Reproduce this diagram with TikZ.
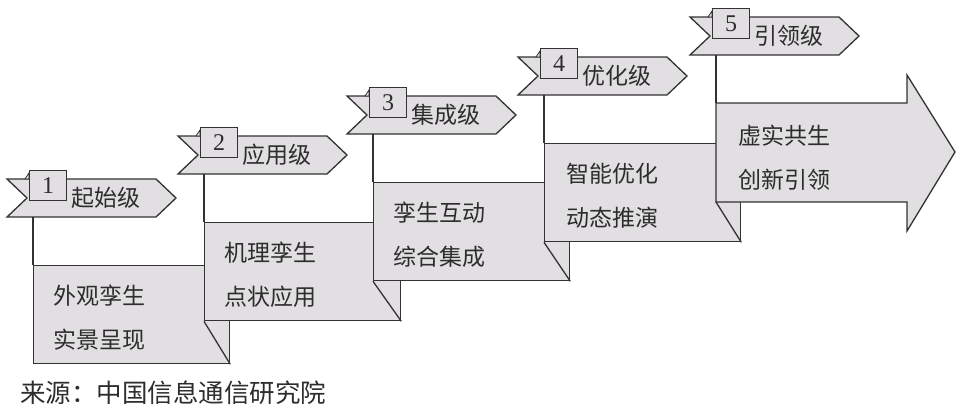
\documentclass[tikz,border=0pt]{standalone}
\usepackage{fontspec}
\setmainfont{Liberation Serif}
\newfontfamily\cjk{Noto Sans CJK SC}
\definecolor{fillcol}{RGB}{225,223,225}
\definecolor{linecol}{RGB}{50,50,50}
\definecolor{textcol}{RGB}{45,45,45}

\tikzstyle{stagebox} = [draw=linecol, fill=fillcol, line width=1.3pt, rectangle,
    minimum width=196pt, minimum height=98pt, anchor=north west, inner sep=0pt]
\tikzstyle{numbox} = [draw=linecol, fill=fillcol, line width=1.3pt, rectangle,
    minimum width=37pt, minimum height=30pt, anchor=north west, inner sep=0pt,
    text=textcol, font=\fontsize{24}{24}\selectfont]
\tikzstyle{flagshape} = [draw=linecol, fill=fillcol, line width=1.3pt]
\tikzstyle{tab} = [draw=linecol, fill=fillcol, line width=0.8pt]
\tikzstyle{link} = [draw=linecol, line width=1.3pt]
\tikzstyle{stagetext} = [anchor=west, align=left, inner sep=0pt, text=textcol,
    font=\cjk\fontsize{23}{44}\selectfont]
\tikzstyle{flaglabel} = [anchor=west, inner sep=0pt, text=textcol,
    font=\cjk\fontsize{23}{23}\selectfont]
\tikzstyle{caption} = [anchor=west, inner sep=0pt, text=textcol,
    font=\cjk\fontsize{25.5}{25.5}\selectfont]

\begin{document}
\begin{tikzpicture}[x=1pt, y=-1pt]
      \useasboundingbox (0,0) rectangle (964,413);

      % stage 1
      \node [stagebox] (stage1) at (33,265) {};
      \node [stagetext] (text1) at ([xshift=20pt,yshift=-53pt]stage1.north west) {外观孪生\\实景呈现};
      \coordinate (flag1) at (7,179);
      \coordinate (foot1) at (33,217);
      \draw [flagshape] (flag1) -- ++(149,0) -- ++(20,19) -- ++(-20,19) -- ++(-149,0) -- ++(20,-19) -- cycle;
      \draw [tab] (flag1) ++(18,0) -- ++(4,-6) -- ++(0,6) -- cycle;
      \node [numbox] (num1) at (29,170) {1};
      \node [flaglabel] (lab1) at (71,198) {起始级};
      \draw [link] (foot1) -- (stage1.north west);

      % stage 2
      \node [stagebox] (stage2) at (204,222) {};
      \node [stagetext] (text2) at ([xshift=20pt,yshift=-53pt]stage2.north west) {机理孪生\\点状应用};
      \draw [link] (stage2.south west) -- (stage1.south east);
      \coordinate (flag2) at (178,136);
      \coordinate (foot2) at (204,174);
      \draw [flagshape] (flag2) -- ++(149,0) -- ++(20,19) -- ++(-20,19) -- ++(-149,0) -- ++(20,-19) -- cycle;
      \draw [tab] (flag2) ++(18,0) -- ++(4,-6) -- ++(0,6) -- cycle;
      \node [numbox] (num2) at (200,127) {2};
      \node [flaglabel] (lab2) at (242,155) {应用级};
      \draw [link] (foot2) -- (stage2.north west);

      % stage 3
      \node [stagebox] (stage3) at (373,182) {};
      \node [stagetext] (text3) at ([xshift=20pt,yshift=-53pt]stage3.north west) {孪生互动\\综合集成};
      \draw [link] (stage3.south west) -- (stage2.south east);
      \coordinate (flag3) at (347,96);
      \coordinate (foot3) at (373,134);
      \draw [flagshape] (flag3) -- ++(149,0) -- ++(20,19) -- ++(-20,19) -- ++(-149,0) -- ++(20,-19) -- cycle;
      \draw [tab] (flag3) ++(18,0) -- ++(4,-6) -- ++(0,6) -- cycle;
      \node [numbox] (num3) at (369,87) {3};
      \node [flaglabel] (lab3) at (411,115) {集成级};
      \draw [link] (foot3) -- (stage3.north west);

      % stage 4
      \node [stagebox] (stage4) at (544,143) {};
      \node [stagetext] (text4) at ([xshift=22pt,yshift=-53pt]stage4.north west) {智能优化\\动态推演};
      \draw [link] (stage4.south west) -- (stage3.south east);
      \coordinate (flag4) at (518,57);
      \coordinate (foot4) at (544,95);
      \draw [flagshape] (flag4) -- ++(149,0) -- ++(20,19) -- ++(-20,19) -- ++(-149,0) -- ++(20,-19) -- cycle;
      \draw [tab] (flag4) ++(18,0) -- ++(4,-6) -- ++(0,6) -- cycle;
      \node [numbox] (num4) at (540,48) {4};
      \node [flaglabel] (lab4) at (582,76) {优化级};
      \draw [link] (foot4) -- (stage4.north west);

      % stage 5 (arrow)
      \coordinate (stage5) at (716,103);
      \coordinate (stage5sw) at (716,202);
      \draw [flagshape] (stage5) -- ++(191,0) -- ++(0,-28) -- ++(48,77) -- ++(-48,79) -- ++(0,-29) -- ++(-191,0) -- cycle;
      \node [stagetext] (text5) at (738,158) {虚实共生\\创新引领};
      \draw [link] (stage5sw) -- (stage4.south east);
      \coordinate (flag5) at (690,17);
      \coordinate (foot5) at (716,55);
      \draw [flagshape] (flag5) -- ++(149,0) -- ++(20,19) -- ++(-20,19) -- ++(-149,0) -- ++(20,-19) -- cycle;
      \draw [tab] (flag5) ++(18,0) -- ++(4,-6) -- ++(0,6) -- cycle;
      \node [numbox] (num5) at (712,8) {5};
      \node [flaglabel] (lab5) at (754,36) {引领级};
      \draw [link] (foot5) -- (stage5);

      \node [caption] (source) at (20,393) {来源：中国信息通信研究院};
    \end{tikzpicture}
\end{document}
